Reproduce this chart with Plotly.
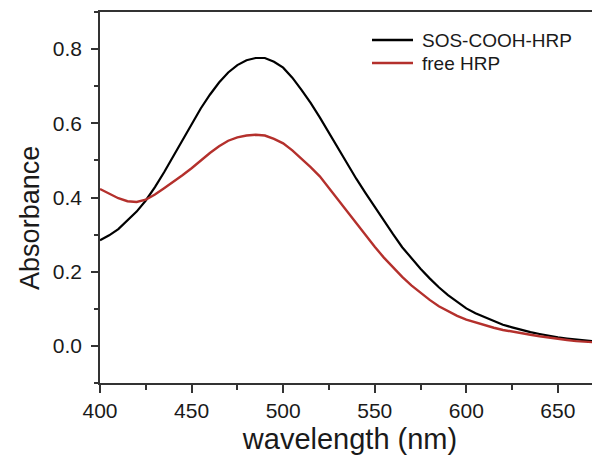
import plotly.graph_objects as go

wavelength = [400, 405, 410, 415, 420, 425, 430, 435, 440, 445, 450, 455, 460, 465, 470,
              475, 480, 485, 490, 495, 500, 505, 510, 515, 520, 525, 530, 535, 540, 545,
              550, 555, 560, 565, 570, 575, 580, 585, 590, 595, 600, 605, 610, 615, 620,
              625, 630, 635, 640, 645, 650, 655, 660, 665, 670, 675]

sos_cooh_hrp = [0.285, 0.298, 0.315, 0.338, 0.362, 0.392, 0.428, 0.468, 0.512, 0.556,
                0.600, 0.640, 0.677, 0.710, 0.737, 0.757, 0.770, 0.776, 0.776, 0.766,
                0.750, 0.723, 0.690, 0.655, 0.616, 0.574, 0.532, 0.490, 0.450, 0.412,
                0.374, 0.337, 0.301, 0.266, 0.236, 0.208, 0.182, 0.158, 0.137, 0.118,
                0.101, 0.088, 0.077, 0.066, 0.057, 0.050, 0.043, 0.037, 0.032, 0.027,
                0.023, 0.020, 0.017, 0.014, 0.012, 0.010]

free_hrp = [0.423, 0.410, 0.398, 0.390, 0.388, 0.394, 0.408, 0.425, 0.442, 0.460,
            0.479, 0.500, 0.520, 0.538, 0.553, 0.562, 0.567, 0.569, 0.567, 0.558,
            0.546, 0.527, 0.505, 0.482, 0.457, 0.425, 0.395, 0.362, 0.329, 0.297,
            0.267, 0.238, 0.211, 0.186, 0.163, 0.143, 0.124, 0.107, 0.093, 0.081,
            0.071, 0.063, 0.056, 0.049, 0.043, 0.038, 0.034, 0.030, 0.026, 0.022,
            0.019, 0.016, 0.013, 0.011, 0.009, 0.008]

series_names = ["SOS-COOH-HRP", "free HRP"]
series_colors = ["#000000", "#b4302c"]
x_ticks = [400, 450, 500, 550, 600, 650]
y_ticks = [0.0, 0.2, 0.4, 0.6, 0.8]
y_tick_labels = ["0.0", "0.2", "0.4", "0.6", "0.8"]
x_title = "wavelength (nm)"
y_title = "Absorbance"

font_family = "Liberation Sans, Arial, sans-serif"

fig = go.Figure()
fig.add_trace(go.Scatter(x=wavelength, y=sos_cooh_hrp, mode="lines", name=series_names[0],
                         line=dict(color=series_colors[0], width=2.2), showlegend=False))
fig.add_trace(go.Scatter(x=wavelength, y=free_hrp, mode="lines", name=series_names[1],
                         line=dict(color=series_colors[1], width=2.4), showlegend=False))

# legend drawn in paper coordinates
legend_rows_y = [0.9245, 0.8625]
for name, color, ly in zip(series_names, series_colors, legend_rows_y):
    fig.add_shape(type="line", xref="paper", yref="paper", x0=0.544, x1=0.626, y0=ly, y1=ly,
                  line=dict(color=color, width=2.6))
    fig.add_annotation(xref="paper", yref="paper", x=0.64, y=ly, text=name, showarrow=False,
                       xanchor="left", yanchor="middle",
                       font=dict(size=19, family=font_family, color="#1a1a1a"))

# y-axis title (placed slightly below the axis centre, as in the reference)
fig.add_annotation(xref="paper", yref="paper", x=-0.14, y=0.445, text=y_title, showarrow=False,
                   textangle=-90, xanchor="center", yanchor="middle",
                   font=dict(size=27, family=font_family, color="#1a1a1a"))

fig.update_layout(
    width=600, height=459,
    margin=dict(l=92, r=8, t=4, b=84),
    paper_bgcolor="white", plot_bgcolor="white",
    font=dict(family=font_family, color="#1a1a1a"),
    showlegend=False,
    xaxis=dict(range=[400, 673], tickvals=x_ticks, ticks="outside", ticklen=8, tickwidth=1.5,
               tickcolor="#333", showline=True, linecolor="#333", linewidth=1.5, mirror=True,
               showgrid=False, zeroline=False, automargin=False,
               minor=dict(dtick=25, tick0=400, ticks="outside", ticklen=5, tickwidth=1.5, tickcolor="#333", showgrid=False),
               tickfont=dict(size=21),
               title=dict(text=x_title, font=dict(size=29), standoff=8)),
    yaxis=dict(range=[-0.1, 0.9], tickvals=y_ticks, ticktext=y_tick_labels, ticks="outside",
               ticklen=7, tickwidth=1.5, tickcolor="#333", showline=True, linecolor="#333",
               linewidth=1.5, mirror=False, showgrid=False, zeroline=False, automargin=False,
               ticklabelstandoff=5,
               minor=dict(dtick=0.1, tick0=0, ticks="outside", ticklen=4, tickwidth=1.5, tickcolor="#333", showgrid=False),
               tickfont=dict(size=21)),
)

fig.write_html("out.html")
